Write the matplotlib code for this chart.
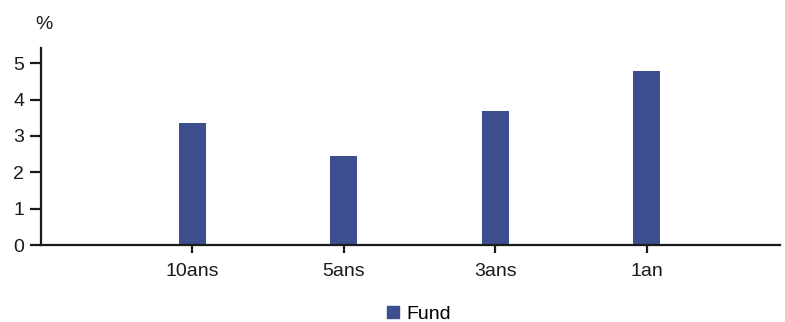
import matplotlib
matplotlib.use("Agg")
import matplotlib.pyplot as plt
from matplotlib.lines import Line2D

categories = ["10ans", "5ans", "3ans", "1an"]
fund = [3.37, 2.45, 3.69, 4.80]
yticks = [0, 1, 2, 3, 4, 5]

plt.rcParams["font.family"] = ["Liberation Sans", "DejaVu Sans"]
bar_color = "#3c4e8d"
ink = "#1a1a1a"
fs = 14

fig = plt.figure(figsize=(7.85, 3.22), dpi=100)
ax = fig.add_axes([41 / 785, 1 - 245 / 322, (780 - 41) / 785, (245 - 48) / 322])

pos = list(range(1, len(categories) + 1))
ax.bar(pos, fund, width=0.18, color=bar_color, zorder=2)

ax.set_xlim(0, 4.88)
ax.set_ylim(0, 5.42)
ax.set_xticks(pos)
ax.set_xticklabels(categories)
ax.set_yticks(yticks)

for s in ["top", "right"]:
    ax.spines[s].set_visible(False)
for s in ["left", "bottom"]:
    ax.spines[s].set_color(ink)
    ax.spines[s].set_linewidth(1.6)

ax.tick_params(axis="y", length=8, width=1.6, color=ink, labelsize=fs, pad=4, labelcolor=ink)
ax.tick_params(axis="x", length=6, width=1.6, color=ink, labelsize=fs, pad=7, labelcolor=ink)

fig.text(43.5 / 785, 1 - 24.5 / 322, "%", fontsize=fs, color=ink, va="center", ha="center")

handle = Line2D([0], [0], marker="s", color=bar_color, ls="", markersize=8)
fig.legend([handle], ["Fund"], loc="center", bbox_to_anchor=(417 / 785, 1 - 314 / 322),
           frameon=False, fontsize=fs, handletextpad=0.2, handlelength=1.0)

fig.savefig("out.png", dpi=100)
